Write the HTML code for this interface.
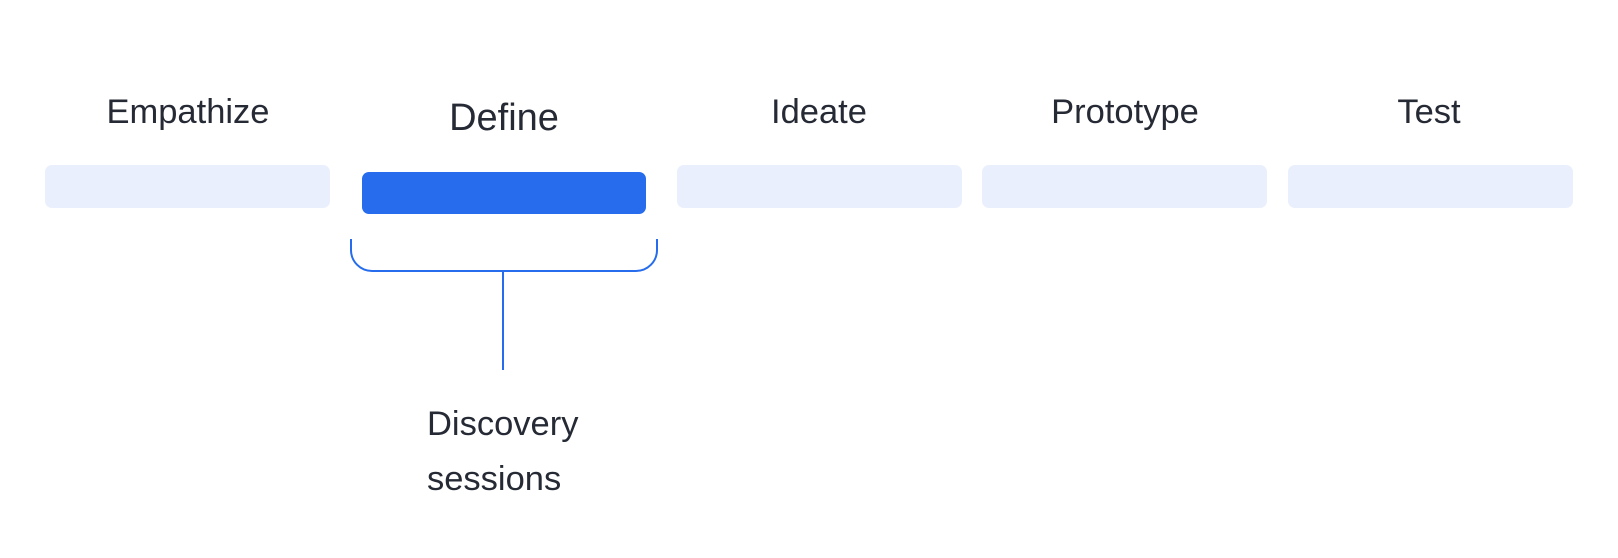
<!DOCTYPE html>
<html><head><meta charset="utf-8"><style>
html,body{margin:0;padding:0;background:#fff;}
body{width:1618px;height:558px;position:relative;overflow:hidden;font-family:"Liberation Sans",Arial,sans-serif;color:#262a35;}
.bar{position:absolute;top:165px;height:43px;background:#e9effc;border-radius:7px;}
.lbl{position:absolute;width:300px;text-align:center;font-size:34.5px;line-height:1;}
</style></head><body>
<div class="lbl" style="left:38px;top:95px;">Empathize</div>
<div class="lbl" style="left:354px;top:99px;font-size:38px;">Define</div>
<div class="lbl" style="left:669px;top:95px;">Ideate</div>
<div class="lbl" style="left:975px;top:95px;">Prototype</div>
<div class="lbl" style="left:1279px;top:95px;">Test</div>
<div class="bar" style="left:45px;width:285px;"></div>
<div class="bar" style="left:362px;top:172px;width:284px;height:42px;background:#266cec;"></div>
<div class="bar" style="left:677px;width:285px;"></div>
<div class="bar" style="left:982px;width:285px;"></div>
<div class="bar" style="left:1288px;width:285px;"></div>
<svg width="1618" height="558" style="position:absolute;left:0;top:0;">
<path d="M351 239 V250 A21 21 0 0 0 372 271 H636 A21 21 0 0 0 657 250 V239" fill="none" stroke="#266cec" stroke-width="2"/>
<line x1="503" y1="271" x2="503" y2="370" stroke="#266cec" stroke-width="2"/>
</svg>
<div style="position:absolute;left:427px;top:397px;font-size:34.5px;line-height:55px;">Discovery<br>sessions</div>
</body></html>
